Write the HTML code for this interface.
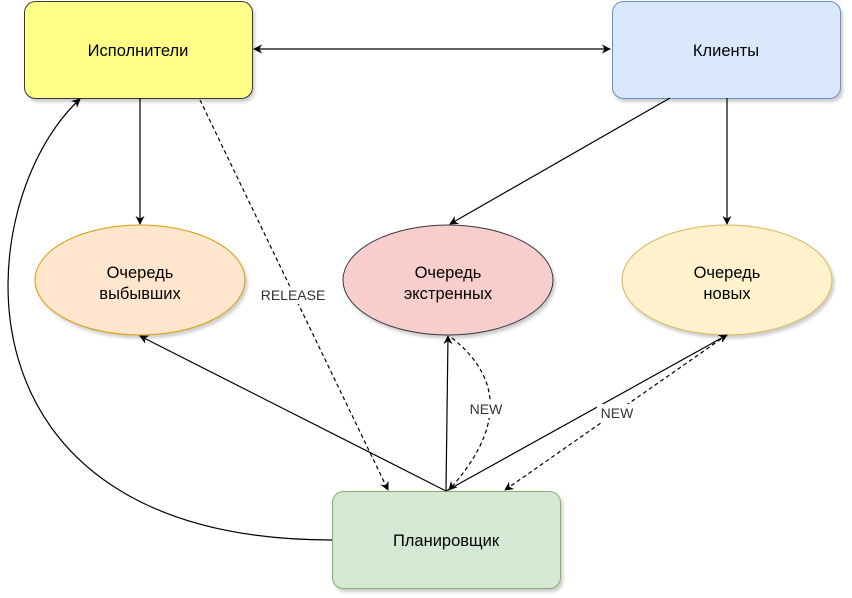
<!DOCTYPE html>
<html><head><meta charset="utf-8"><style>body{margin:0;background:#fff}svg{display:block}text{font-family:"Liberation Sans",sans-serif;font-size:16.5px}</style></head><body>
<svg width="852" height="598" viewBox="0 0 852 598">
<defs>
<marker id="a" viewBox="0 0 10 10" refX="9" refY="5" markerWidth="9" markerHeight="9" orient="auto-start-reverse" markerUnits="userSpaceOnUse"><path d="M0,0 L10,5 L0,10 L3,5 Z" fill="#000"/></marker>
<filter id="s" x="-10%" y="-10%" width="130%" height="130%"><feDropShadow dx="2" dy="3" stdDeviation="1.5" flood-color="#000" flood-opacity="0.2"/></filter>
</defs>
<g filter="url(#s)">
<rect x="24.5" y="1.5" width="228" height="97" rx="11" fill="#ffff88" stroke="#36393d"/>
<rect x="612.5" y="1.5" width="228" height="97" rx="11" fill="#dae8fc" stroke="#6c8ebf"/>
<ellipse cx="140" cy="280" rx="105" ry="55" fill="#ffe6cc" stroke="#d79b00"/>
<ellipse cx="448" cy="280" rx="105" ry="55" fill="#f8cecc" stroke="#36393d"/>
<ellipse cx="727" cy="280" rx="105" ry="55" fill="#fff2cc" stroke="#d6b656"/>
<rect x="332.5" y="491.5" width="228" height="97" rx="11" fill="#d5e8d4" stroke="#82b366"/>
</g>
<g stroke="#000" stroke-width="1.2" fill="none">
<path d="M254,49 L610,49" marker-start="url(#a)" marker-end="url(#a)"/>
<path d="M140,98 L140,224" marker-end="url(#a)"/>
<path d="M670,98 L450,224" marker-end="url(#a)"/>
<path d="M727,98 L727,224" marker-end="url(#a)"/>
<path d="M200,100 L388,490" stroke-dasharray="4,3" marker-end="url(#a)"/>
<path d="M446,491 L140,336" marker-end="url(#a)"/>
<path d="M446,491 L448,336" marker-end="url(#a)"/>
<path d="M446,491 L727,335" marker-end="url(#a)"/>
<path d="M452,338 Q530,400 449,490" stroke-dasharray="4,3" marker-end="url(#a)"/>
<path d="M721,339 L505,490" stroke-dasharray="4,3" marker-end="url(#a)"/>
<path d="M332,540 C-60,540 -30,200 80,99" marker-end="url(#a)"/>
</g>
<rect x="256" y="286" width="74" height="18" fill="#fff"/>
<rect x="466" y="400" width="40" height="18" fill="#fff"/>
<rect x="597" y="404" width="40" height="18" fill="#fff"/>
<g fill="#333" text-anchor="middle">
<text x="293" y="300" style="font-size:14px">RELEASE</text>
<text x="486" y="414" style="font-size:14px">NEW</text>
<text x="617" y="418" style="font-size:14px">NEW</text>
</g>
<g text-anchor="middle" fill="#000">
<text x="138" y="56">Исполнители</text>
<text x="726" y="56">Клиенты</text>
<text x="140" y="278">Очередь</text><text x="140" y="299">выбывших</text>
<text x="448" y="278">Очередь</text><text x="448" y="299">экстренных</text>
<text x="727" y="278">Очередь</text><text x="727" y="299">новых</text>
<text x="446" y="546">Планировщик</text>
</g>
</svg>
</body></html>
